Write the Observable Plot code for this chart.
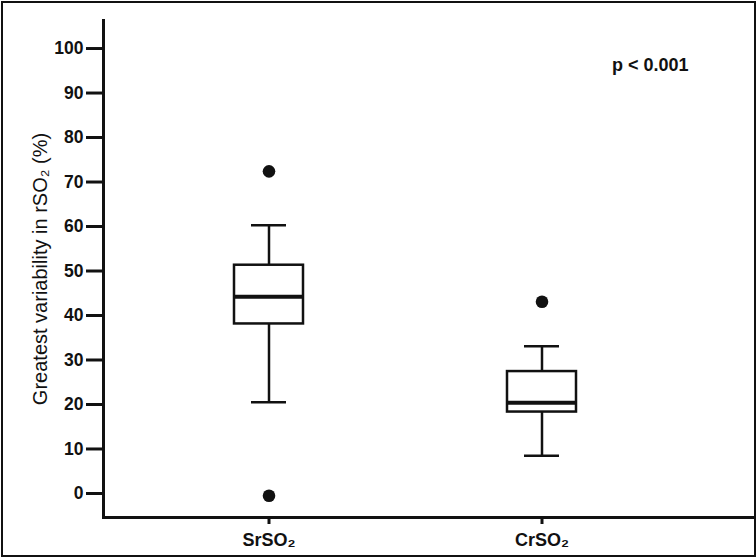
<!DOCTYPE html>
<html>
<head>
<meta charset="utf-8">
<script src="https://cdn.jsdelivr.net/npm/d3@7"></script>
<script src="https://cdn.jsdelivr.net/npm/@observablehq/plot@0.6"></script>
<style>
  html, body { margin: 0; padding: 0; background: #fff; }
  #wrap { position: relative; width: 756px; height: 557px; }
  #border { position: absolute; left: 1px; top: 1px; width: 751px; height: 552px; border: 2.5px solid #111; pointer-events: none; }
  svg { font-family: "Liberation Sans", Arial, sans-serif; }
</style>
</head>
<body>
<div id="wrap"><div id="border"></div></div>
<script>
const categories = ["SrSO\u2082", "CrSO\u2082"];
const q1 = [38.1, 18.3];
const medians = [44.2, 20.4];
const q3 = [51.3, 27.4];
const whiskerLow = [20.5, 8.5];
const whiskerHigh = [60.3, 33.1];
const outlierCat = ["SrSO\u2082", "SrSO\u2082", "CrSO\u2082"];
const outlierVal = [72.4, -0.5, 43.1];
const yTicks = [0, 10, 20, 30, 40, 50, 60, 70, 80, 90, 100];

const boxes = categories.map((c, i) => ({
  cat: c, q1: q1[i], med: medians[i], q3: q3[i], lo: whiskerLow[i], hi: whiskerHigh[i]
}));
const outliers = outlierCat.map((c, i) => ({cat: c, v: outlierVal[i]}));

const chart = Plot.plot({
  width: 756,
  height: 557,
  marginTop: 20,
  marginBottom: 40,
  marginLeft: 103,
  marginRight: 4,
  style: {fontFamily: "'Liberation Sans', Arial, sans-serif", color: "#111", background: "transparent"},
  x: {type: "band", domain: categories, paddingInner: 0.747, paddingOuter: 0.562, align: 0.428, label: null},
  y: {domain: [-5.4, 106.3], label: null},
  marks: [
    Plot.axisY({ticks: yTicks, tickSize: 17, tickPadding: 3, strokeWidth: 3, fontSize: 17.5, fontWeight: "bold", label: null}),
    Plot.axisX({tickSize: 7, tickPadding: 9, strokeWidth: 3, fontSize: 18, fontWeight: "bold", label: null}),
    Plot.text(["Greatest variability in rSO\u2082 (%)"], {
      frameAnchor: "left", textAnchor: "middle", lineAnchor: "middle", rotate: -90, dx: -63, fontSize: 20, fill: "#111"
    }),
    Plot.frame({anchor: "left", strokeWidth: 3, stroke: "#111"}),
    Plot.frame({anchor: "bottom", strokeWidth: 3, stroke: "#111"}),
    Plot.ruleX(boxes, {x: "cat", y1: "lo", y2: "q1", strokeWidth: 2.5, stroke: "#111"}),
    Plot.ruleX(boxes, {x: "cat", y1: "q3", y2: "hi", strokeWidth: 2.5, stroke: "#111"}),
    Plot.tickY(boxes, {x: "cat", y: "lo", strokeWidth: 2.5, stroke: "#111", insetLeft: 17, insetRight: 17}),
    Plot.tickY(boxes, {x: "cat", y: "hi", strokeWidth: 2.5, stroke: "#111", insetLeft: 17, insetRight: 17}),
    Plot.barY(boxes, {x: "cat", y1: "q1", y2: "q3", fill: "white", stroke: "#111", strokeWidth: 2.5}),
    Plot.tickY(boxes, {x: "cat", y: "med", strokeWidth: 4, stroke: "#111"}),
    Plot.dot(outliers, {x: "cat", y: "v", r: 6.3, fill: "#111", stroke: "none"}),
    Plot.text(["p < 0.001"], {frameAnchor: "top-right", dx: -64, dy: 45, textAnchor: "end", lineAnchor: "middle", fontSize: 18, fontWeight: "bold", fill: "#111"})
  ]
});
document.getElementById("wrap").prepend(chart);
</script>
</body>
</html>
